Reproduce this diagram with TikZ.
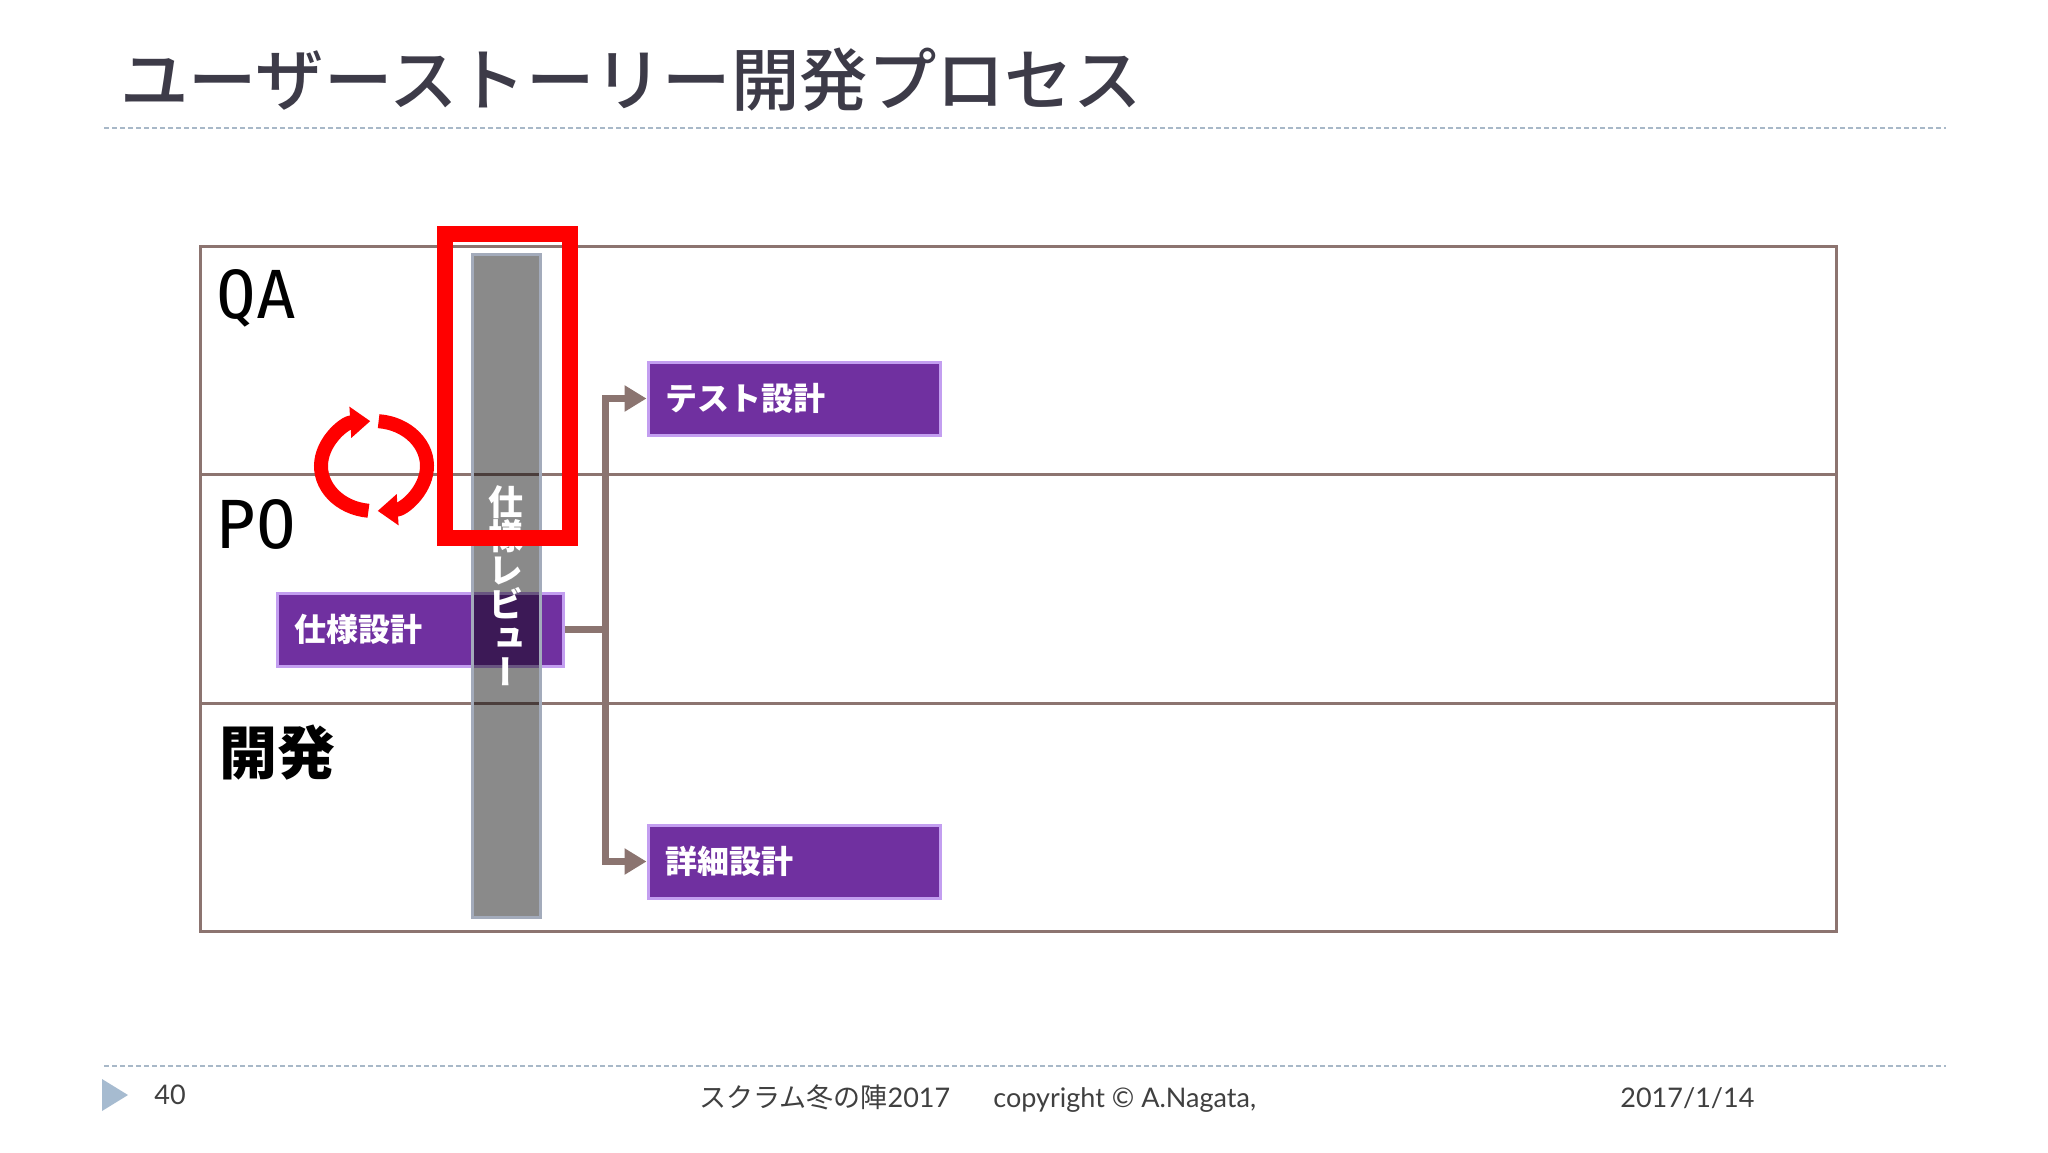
\documentclass[tikz,border=0pt]{standalone}
\usepackage{fontspec}
\setmainfont{Lato}
\newfontfamily\jp{Noto Sans CJK JP}
\newfontfamily\jpm{Noto Sans CJK JP Medium}
\newfontfamily\jpv[RawFeature=+vert]{Noto Sans CJK JP}
\newfontfamily\monof{DejaVu Sans Mono}
\usetikzlibrary{arrows.meta}
\definecolor{titlec}{HTML}{3D3B48}
\definecolor{tabline}{HTML}{8C7470}
\definecolor{boxfill}{HTML}{7030A0}
\definecolor{boxline}{HTML}{C39EF0}
\definecolor{barline}{HTML}{A3ABBB}
\definecolor{connc}{HTML}{8B7470}
\definecolor{redc}{HTML}{FF0000}
\definecolor{footc}{HTML}{404040}
\definecolor{tric}{HTML}{A6BBD0}
\definecolor{dashc}{HTML}{A8B8C8}
\tikzset{
  tab/.style={draw=tabline, line width=1.5pt},
  dashline/.style={draw=dashc, line width=0.8pt, dash pattern=on 2.5pt off 1.5pt},
  taskbox/.style={draw=boxline, line width=1.5pt, fill=boxfill, text=white,
    font=\jp\bfseries\fontsize{16}{16}\selectfont, minimum height=36.5pt,
    inner xsep=8.5pt, inner ysep=0pt, align=left},
  reviewbar/.style={draw=barline, line width=1.5pt, fill=black, fill opacity=0.46,
    text opacity=1, text=white, minimum width=34pt, minimum height=331.5pt,
    inner sep=0pt, align=center, font=\jpv\bfseries\fontsize{17.5}{17}\selectfont},
  conn/.style={draw=connc, line width=3.5pt, -{Triangle[length=11pt,width=12.5pt]}},
  connplain/.style={draw=connc, line width=3.5pt},
  hilite/.style={draw=redc, line width=8pt, minimum width=62.5pt, minimum height=152pt, inner sep=0pt},
  cyc/.style={draw=redc, line width=7pt, -{Triangle[length=10pt,width=15pt]}},
  rowlab/.style={font=\monof\fontsize{33}{33}\selectfont, inner sep=0pt, anchor=base west},
  foot/.style={text=footc, font=\fontsize{13.5}{13.5}\selectfont, inner sep=0pt, anchor=base west},
}
\begin{document}
\begin{tikzpicture}[x=0.5pt,y=-0.5pt]
\useasboundingbox[fill=white] (0,0) rectangle (2048,1152);
% title
\node[anchor=west, inner sep=0pt, text=titlec, font=\jpm\fontsize{34.2}{34.2}\selectfont] (title) at (120,80) {ユーザーストーリー開発プロセス};
\draw[dashline] (104,128) -- (1946,128);
% table
\draw[tab] (200,246) rectangle (1836,931);
\draw[tab] (200,474) -- (1836,474);
\draw[tab] (200,703) -- (1836,703);
% row labels
\node[rowlab] (qa) at (216,318) {QA};
\node[rowlab] (po) at (216,548) {PO};
\node[anchor=west, inner sep=0pt, font=\jp\bfseries\fontsize{29}{29}\selectfont] (dev) at (219,753) {開発};
% spec design box
\node[taskbox, text width=126pt] (spec) at (420,629.5) {仕様設計};
% review bar
\node[reviewbar] (review) at (506,586) {仕\\様\\レ\\ビ\\ュ\\ー};
% connectors
\coordinate (split) at (605,629.5);
\node[taskbox, text width=129pt] (test) at (794,398.5) {テスト設計};
\node[taskbox, text width=129pt] (detail) at (794,861.5) {詳細設計};
\draw[connplain] (spec.east) -- (split);
\draw[conn] (split) |- (test.west);
\draw[conn] (split) |- (detail.west);
% highlight
\node[hilite] (hl) at (507.5,386) {};
% cycle arrows
\coordinate (cyc) at (374,466);
\draw[cyc] ([shift={(96:53 and 45)}]cyc) arc[start angle=96, end angle=266, x radius=53, y radius=45];
\draw[cyc] ([shift={(-85:53 and 45)}]cyc) arc[start angle=-85, end angle=86, x radius=53, y radius=45];
% footer
\draw[dashline] (104,1066) -- (1946,1066);
\fill[tric] (102,1079) -- (128,1095) -- (102,1111) -- cycle;
\node[foot] (pg) at (154,1104) {40};
\node[foot] (ev) at (699,1107) {{\jp スクラム冬の陣}2017};
\node[foot] (cp) at (993,1107) {copyright © A.Nagata,};
\node[foot] (dt) at (1620,1107) {2017/1/14};
\end{tikzpicture}
\end{document}
